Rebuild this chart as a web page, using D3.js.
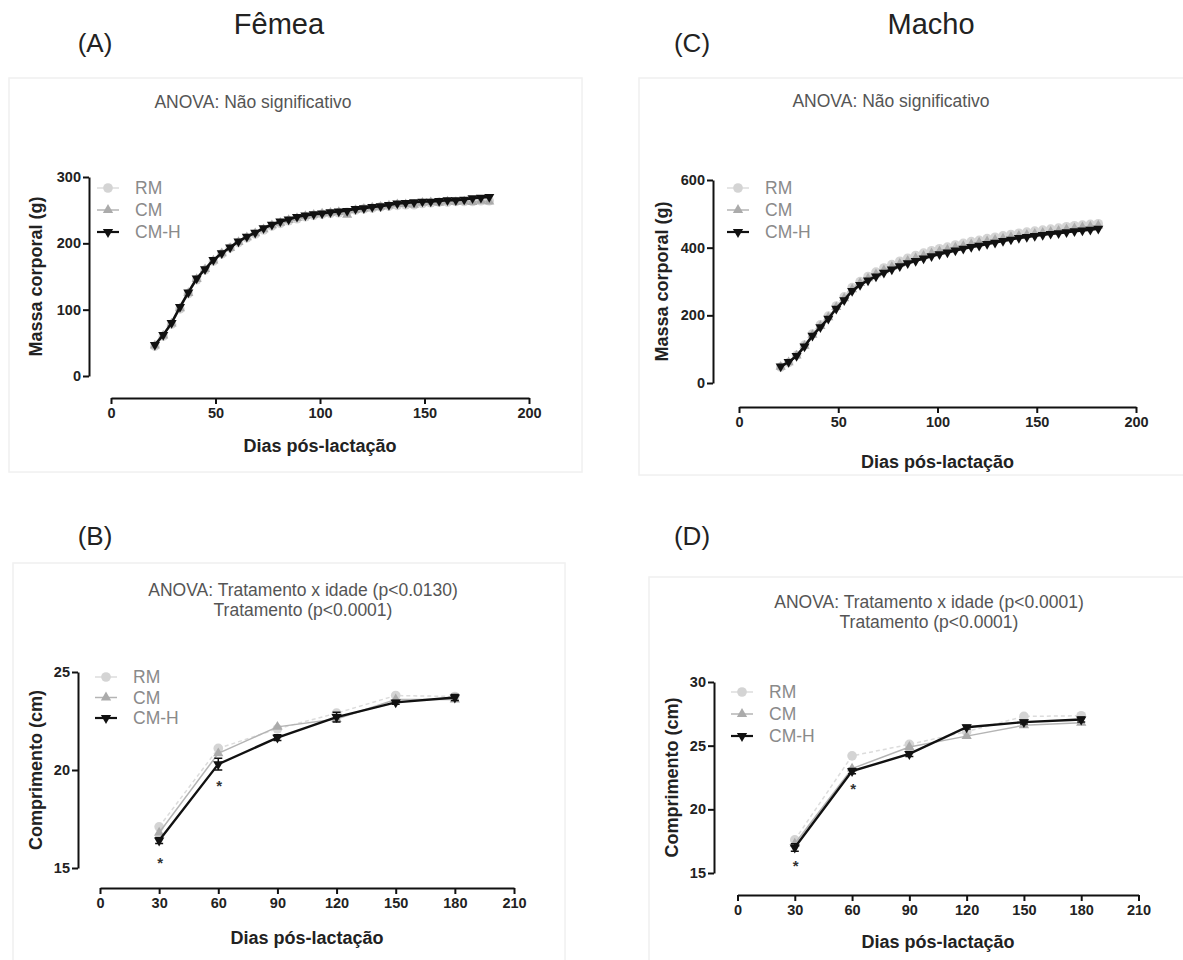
<!DOCTYPE html>
<html>
<head>
<meta charset="utf-8">
<script src="https://cdn.jsdelivr.net/npm/d3@7"></script>
<style>
  body{margin:0;background:#fff;}
  svg{display:block;font-family:"Liberation Sans",Arial,sans-serif;}
  .tick text{font-size:14.5px;font-weight:bold;fill:#222;}
  .axis path,.axis line{stroke:#111;stroke-width:2;}
  .axis-title{font-size:18px;font-weight:bold;fill:#222;}
  .anova{font-size:17.5px;fill:#555;}
  .legend-label{font-size:17.5px;fill:#8a8a8a;}
  .panel-letter{font-size:26px;fill:#222;}
  .sex{font-size:29px;fill:#222;}
</style>
</head>
<body>
<div id="fig"></div>
<script>
/* Body mass (g) and length (cm) after weaning, RM / CM / CM-H groups */
var massDays=[21,25,29,33,37,41,45,49,53,57,61,65,69,73,77,81,85,89,93,97,101,105,109,113,117,121,125,129,133,137,141,145,149,153,157,161,165,169,173,177,181];
var femMassRM=[45,60,78,101,124,145,160,173,184,193,201,208,214,220,226,230,234,237,240,242,244,245,246,247,250,252,253,255,256,257,258,258,260,261,262,262,263,263,263,264,264];
var femMassCM=[46,61,79,102,125,146,161,174,185,193,202,209,215,221,227,231,235,238,241,243,245,246,247,243,250,252,254,255,257,259,259,258,261,262,261,263,262,263,262,264,263];
var femMassCMH=[47,62,80,104,126,147,161,175,185,194,203,210,216,223,228,233,236,240,242,244,245,247,248,249,252,253,255,256,258,260,261,262,263,263,264,265,265,266,268,269,270];
var maleMassRM=[47,60,82,112,145,172,198,228,255,282,300,315,328,340,350,360,369,377,384,391,397,402,408,413,418,422,427,431,435,439,443,446,449,452,455,458,462,465,467,469,471];
var maleMassCM=[48,61,81,110,142,168,194,224,250,277,295,309,321,333,343,352,361,369,376,383,389,394,400,405,410,415,419,423,427,431,435,438,441,444,447,450,454,457,460,462,465];
var maleMassCMH=[49,62,80,108,140,165,190,220,245,272,290,303,315,326,336,345,354,361,368,375,381,386,392,397,402,406,411,415,420,424,429,432,435,438,441,443,446,449,451,453,456];

var lenDays=[30,60,90,120,150,180];
var femLenRM=[17.1,21.1,22.1,22.9,23.8,23.75];
var femLenCM=[16.8,20.85,22.2,22.6,23.6,23.6];
var femLenCMH=[16.4,20.3,21.65,22.7,23.45,23.7];
var femLenErrCMH=[0.15,0.3,0.15,0.25,0.1,0.15];
var maleLenRM=[17.6,24.2,25.1,26.1,27.3,27.35];
var maleLenCM=[17.3,23.2,24.9,25.75,26.6,26.8];
var maleLenCMH=[17.0,23.0,24.35,26.45,26.85,27.05];
var maleLenErrCMH=[0.3,0.2,0.2,0.15,0.15,0.2];
var signifDays=[30,60];

var groups=["RM","CM","CM-H"];
var massTicks=[0,50,100,150,200], lenTicks=[0,30,60,90,120,150,180,210];

var W=1183,H=960;
var svg=d3.select("#fig").append("svg").attr("width",W).attr("height",H);

function marker(kind,size){
    if(kind==="RM") return d3.symbol(d3.symbolCircle,size*1.6)();
    return d3.symbol(d3.symbolTriangle,size)();
}
var style={
    "RM":{color:"#d4d4d4",line:"#dcdcdc",dash:"4,3",w:1.5},
    "CM":{color:"#ababab",line:"#b4b4b4",dash:null,w:1.5},
    "CM-H":{color:"#111",line:"#111",dash:null,w:2.2}
};

function drawPanel(p){
    var g=svg.append("g");
    g.append("rect").attr("x",p.frame[0]).attr("y",p.frame[1]).attr("width",p.frame[2]).attr("height",p.frame[3])
        .attr("fill","none").attr("stroke","#f0f0f0").attr("stroke-width",1.5);

    var x=d3.scaleLinear().domain(p.xDomain).range(p.xRange);
    var y=d3.scaleLinear().domain(p.yDomain).range(p.yRange);

    g.append("g").attr("class","axis").attr("transform","translate(0,"+p.xAxisY+")")
        .call(d3.axisBottom(x).tickValues(p.xTicks).tickSize(6).tickSizeOuter(0).tickPadding(4));
    g.append("g").attr("class","axis").attr("transform","translate("+p.yAxisX+",0)")
        .call(d3.axisLeft(y).tickValues(p.yTicks).tickSize(6).tickSizeOuter(0).tickPadding(2));

    g.append("text").attr("class","axis-title").attr("x",d3.mean(p.xRange)).attr("y",p.xTitleY)
        .attr("text-anchor","middle").text("Dias pós-lactação");
    g.append("text").attr("class","axis-title").attr("text-anchor","middle")
        .attr("transform","translate("+p.yTitleX+","+d3.mean(p.yRange)+") rotate(-90)").text(p.yTitle);

    p.anova.forEach(function(t,i){
        g.append("text").attr("class","anova").attr("x",p.anovaX).attr("y",p.anovaY+i*20)
            .attr("text-anchor","middle").text(t);
    });
    g.append("text").attr("class","panel-letter").attr("x",p.letter[0]).attr("y",p.letter[1])
        .attr("text-anchor","middle").text(p.letter[2]);
    if(p.sex) g.append("text").attr("class","sex").attr("x",p.sex[0]).attr("y",p.sex[1])
        .attr("text-anchor","middle").text(p.sex[2]);

    var line=d3.line().x(function(d){return x(d[0]);}).y(function(d){return y(d[1]);});
    p.series.forEach(function(s,si){
        var st=style[groups[si]];
        var pts=p.days.map(function(d,i){return [d,s[i]];});
        g.append("path").attr("d",line(pts)).attr("fill","none").attr("stroke",st.line)
            .attr("stroke-width",si===2?p.lw:st.w).attr("stroke-dasharray",st.dash);
        if(p.err && si===2){
            pts.forEach(function(d,i){
                var e=p.err[i];
                g.append("path").attr("d","M"+(x(d[0])-4)+","+y(d[1]+e)+"h8M"+x(d[0])+","+y(d[1]+e)+"V"+y(d[1]-e)+"M"+(x(d[0])-4)+","+y(d[1]-e)+"h8")
                    .attr("stroke","#111").attr("stroke-width",1.5).attr("fill","none");
            });
        }
        g.selectAll(null).data(pts).enter().append("path")
            .attr("d",marker(groups[si],p.msize))
            .attr("transform",function(d){return "translate("+x(d[0])+","+y(d[1])+")"+(si===2?" rotate(180)":"");})
            .attr("fill",st.color);
    });

    if(p.signif){
        p.signif.forEach(function(d){
            var i=p.days.indexOf(d);
            g.append("text").attr("x",x(d)+1).attr("y",y(p.series[2][i])+p.starOff)
                .attr("text-anchor","middle").attr("font-size","15px").attr("font-weight","bold").attr("fill","#333").text("*");
        });
    }

    /* legend */
    groups.forEach(function(k,i){
        var st=style[k], ly=p.legend[1]+i*p.legend[2];
        g.append("line").attr("x1",p.legend[0]-11).attr("x2",p.legend[0]+11).attr("y1",ly).attr("y2",ly)
            .attr("stroke",st.line).attr("stroke-width",st.w);
        g.append("path").attr("d",marker(k,46))
            .attr("transform","translate("+p.legend[0]+","+ly+")"+(k==="CM-H"?" rotate(180)":"")).attr("fill",st.color);
        g.append("text").attr("class","legend-label").attr("x",p.legend[0]+27).attr("y",ly+6).text(k);
    });
}

drawPanel({frame:[9,78,573,394],xDomain:[0,200],xRange:[111,529],yDomain:[0,300],yRange:[376,177],
    xAxisY:398,yAxisX:89,xTicks:massTicks,yTicks:[0,100,200,300],xTitleY:452,yTitleX:42,yTitle:"Massa corporal (g)",
    anova:["ANOVA: Não significativo"],anovaX:253,anovaY:108,letter:[95,52,"(A)"],sex:[279,34,"Fêmea"],
    days:massDays,series:[femMassRM,femMassCM,femMassCMH],msize:44,lw:2.6,legend:[108,188,22]});
drawPanel({frame:[639,78,560,397],xDomain:[0,200],xRange:[739,1136],yDomain:[0,600],yRange:[383,180],
    xAxisY:407,yAxisX:713,xTicks:massTicks,yTicks:[0,200,400,600],xTitleY:468,yTitleX:668,yTitle:"Massa corporal (g)",
    anova:["ANOVA: Não significativo"],anovaX:891,anovaY:107,letter:[692,52,"(C)"],sex:[931,34,"Macho"],
    days:massDays,series:[maleMassRM,maleMassCM,maleMassCMH],msize:44,lw:2.6,legend:[738,188,22]});
drawPanel({frame:[13,563,552,410],xDomain:[0,210],xRange:[100,514],yDomain:[15,25],yRange:[868,672],
    xAxisY:888,yAxisX:78,xTicks:lenTicks,yTicks:[15,20,25],xTitleY:944,yTitleX:42,yTitle:"Comprimento (cm)",
    anova:["ANOVA: Tratamento x idade (p<0.0130)","Tratamento (p<0.0001)"],anovaX:303,anovaY:596,letter:[95,545,"(B)"],
    days:lenDays,series:[femLenRM,femLenCM,femLenCMH],err:femLenErrCMH,msize:46,lw:2.4,legend:[106,677,20.5],
    signif:signifDays,starOff:27});
drawPanel({frame:[649,577,550,400],xDomain:[0,210],xRange:[737.5,1138.5],yDomain:[15,30],yRange:[873,682],
    xAxisY:895,yAxisX:714,xTicks:lenTicks,yTicks:[15,20,25,30],xTitleY:948,yTitleX:678,yTitle:"Comprimento (cm)",
    anova:["ANOVA: Tratamento x idade (p<0.0001)","Tratamento (p<0.0001)"],anovaX:929,anovaY:608,letter:[692,545,"(D)"],
    days:lenDays,series:[maleLenRM,maleLenCM,maleLenCMH],err:maleLenErrCMH,msize:46,lw:2.4,legend:[742,692,22],
    signif:signifDays,starOff:23});
</script>
</body>
</html>
